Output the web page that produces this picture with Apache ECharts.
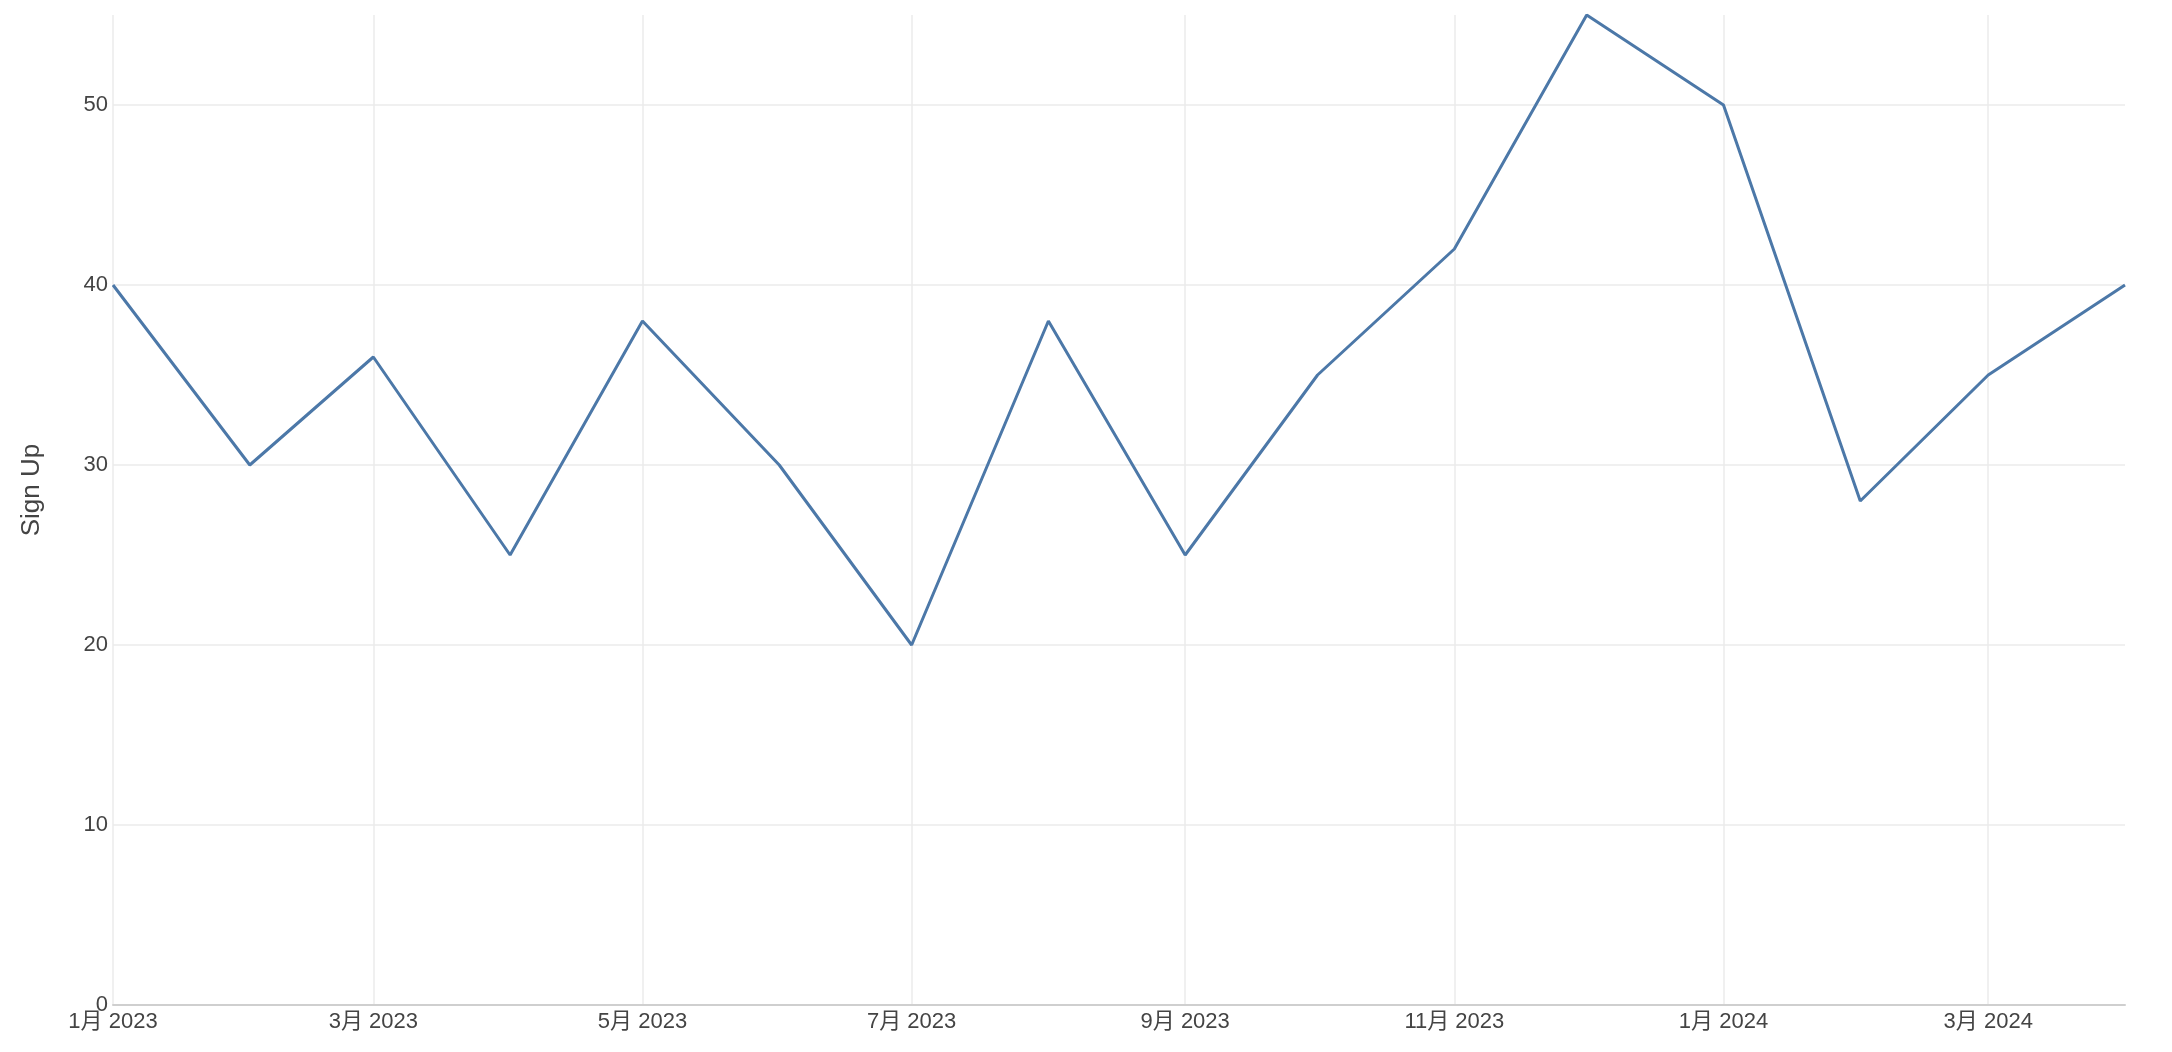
<!DOCTYPE html>
<html>
<head>
<meta charset="utf-8">
<script src="https://cdn.jsdelivr.net/npm/echarts@6/dist/echarts.min.js"></script>
<style>
html,body{margin:0;padding:0;background:#fff;}
#chart{width:2172px;height:1052px;}
</style>
</head>
<body>
<div id="chart"></div>
<script>
const months = ['2023-01-01','2023-02-01','2023-03-01','2023-04-01','2023-05-01','2023-06-01','2023-07-01','2023-08-01','2023-09-01','2023-10-01','2023-11-01','2023-12-01','2024-01-01','2024-02-01','2024-03-01','2024-04-01'];
const signUps = [40,30,36,25,38,30,20,38,25,35,42,55,50,28,35,40];
const yTicks = [0,10,20,30,40,50];
const yTitle = 'Sign Up';

const FONT = "'Liberation Sans', 'Noto Sans CJK SC', sans-serif";
const DAY = 86400000;
const chart = echarts.init(document.getElementById('chart'), null, {renderer:'canvas'});
chart.setOption({
  animation:false,
  grid:{left:113,right:47,top:15,bottom:47,containLabel:false},
  xAxis:{
    type:'time',
    min:months[0], max:months[months.length-1],
    minInterval:61*DAY, maxInterval:61*DAY,
    axisLine:{show:true,lineStyle:{color:'#cfcfcf',width:2}},
    axisTick:{show:false},
    axisLabel:{color:'#444',fontSize:22,fontFamily:FONT,margin:6,showMinLabel:true,showMaxLabel:false,hideOverlap:false,
      formatter:function(v){const d=new Date(v);return (d.getMonth()+1)+'月 '+d.getFullYear();}},
    splitLine:{show:true,showMinLine:false,showMaxLine:false,lineStyle:{color:'#ebebeb',width:1.5}}
  },
  yAxis:{
    type:'value', min:yTicks[0], max:55, interval:10,
    name:yTitle, nameLocation:'middle', nameGap:68,
    nameTextStyle:{color:'#444',fontSize:26,fontFamily:FONT,padding:[0,0,0,40]},
    axisLine:{show:false}, axisTick:{show:false},
    axisLabel:{color:'#444',fontSize:22,fontFamily:FONT,margin:5,showMaxLabel:false},
    splitLine:{show:true,showMaxLine:false,lineStyle:{color:'#ebebeb',width:1.5}}
  },
  series:[{
    type:'line',
    data:months.map((m,i)=>[m,signUps[i]]),
    showSymbol:false,
    lineStyle:{color:'#4c78a8',width:3},
    itemStyle:{color:'#4c78a8'}
  }]
});
</script>
</body>
</html>
